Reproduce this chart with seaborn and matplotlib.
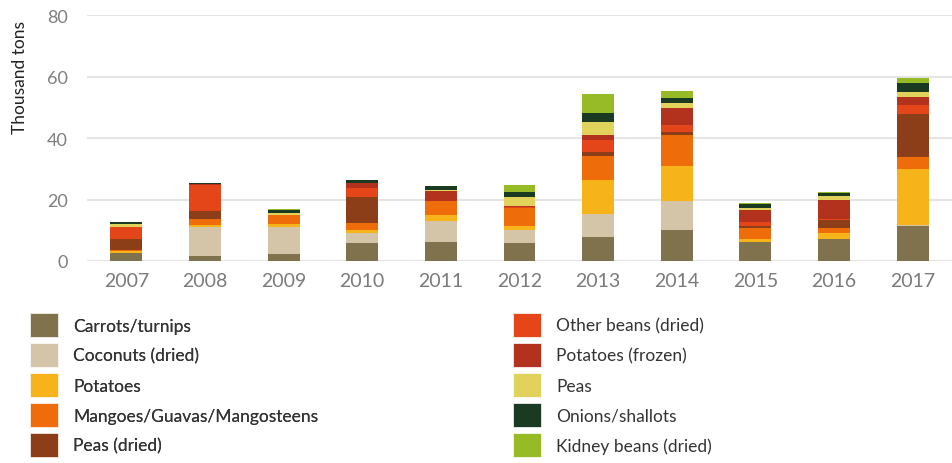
import matplotlib
matplotlib.use("Agg")
import matplotlib.pyplot as plt
from matplotlib.patches import Patch
import numpy as np
import pandas as pd
import seaborn as sns

years = [2007, 2008, 2009, 2010, 2011, 2012, 2013, 2014, 2015, 2016, 2017]

crops = [
    "Carrots/turnips",
    "Coconuts (dried)",
    "Potatoes",
    "Mangoes/Guavas/Mangosteens",
    "Peas (dried)",
    "Other beans (dried)",
    "Potatoes (frozen)",
    "Peas",
    "Onions/shallots",
    "Kidney beans (dried)",
]

# thousand tons (bottom to top of each bar)
carrots = [2.7, 1.5, 2.15, 5.7, 6.3, 5.7, 7.95, 10.2, 6.2, 7.0, 11.3]
coconuts = [0, 9.6, 9.0, 3.55, 6.8, 4.5, 7.4, 9.35, 0, 0, 0.55]
potatoes = [0.55, 0.75, 1.0, 0.75, 1.9, 1.3, 11.0, 11.3, 1.0, 2.25, 18.1]
mangoes = [0.3, 1.9, 2.7, 2.25, 4.5, 5.6, 7.7, 10.0, 3.5, 1.6, 3.9]
peas_dried = [3.5, 2.6, 0, 8.6, 0, 0, 1.3, 1.0, 0.65, 2.6, 14.1]
other_beans = [3.9, 8.5, 0.2, 3.0, 0, 0.3, 3.9, 2.25, 1.3, 0.3, 2.7]
potatoes_frozen = [0, 0.2, 0, 1.5, 3.2, 0.55, 1.6, 5.5, 4.0, 6.1, 2.6]
peas = [1.0, 0, 0.6, 0, 0.3, 2.9, 4.5, 1.9, 0.55, 1.3, 1.6]
onions = [0.6, 0.3, 1.0, 1.0, 1.3, 1.6, 2.9, 1.6, 1.3, 1.0, 2.9]
kidney_beans = [0, 0, 0.3, 0, 0, 2.25, 6.1, 2.25, 0.3, 0.3, 1.6]

series = [carrots, coconuts, potatoes, mangoes, peas_dried,
          other_beans, potatoes_frozen, peas, onions, kidney_beans]

colors = ["#7F724D", "#D4C4A8", "#F6B41A", "#EF6C0A", "#8B3E17",
          "#E4461A", "#B3321D", "#E0D25A", "#1B3A22", "#97BB27"]
palette = dict(zip(crops, colors))

rows = []
for crop, vals in zip(crops, series):
    for y, v in zip(years, vals):
        rows.append({"year": y, "crop": crop, "value": v})
df = pd.DataFrame(rows)

sns.set_theme(style="white")
plt.rcParams["font.family"] = ["Lato", "DejaVu Sans"]

fig = plt.figure(figsize=(9.52, 4.64), dpi=100)
ax = fig.add_axes([87 / 952, 1 - 262 / 464, 1 - 87 / 952, (262 - 16) / 464])

sns.histplot(data=df, x="year", weights="value", hue="crop",
             hue_order=crops[::-1], palette=palette, multiple="stack",
             discrete=True, shrink=0.405, linewidth=0, alpha=1,
             legend=False, ax=ax)

ax.set_xlim(2006.5, 2017.46)
ax.set_ylim(0, 80)
ax.set_yticks([0, 20, 40, 60, 80])
ax.set_xticks(years)
ax.set_xticks(np.arange(2006.5, 2018, 1), minor=True)
ax.set_xlabel("")
ax.set_ylabel("")
for s in ax.spines.values():
    s.set_visible(False)
ax.yaxis.grid(True, color="#E4E4E4", lw=1.5)
ax.xaxis.grid(False)
ax.set_axisbelow(True)
ax.tick_params(axis="x", which="major", length=0, pad=8, labelsize=14, labelcolor="#7A7A7A")
ax.tick_params(axis="x", which="minor", length=5, width=1.5, color="#E4E4E4", direction="out")
ax.tick_params(axis="y", length=0, pad=14, labelsize=13, labelcolor="#7F7F7F")

fig.text(20 / 952, 1 - 78 / 464, "Thousand tons", rotation=90, ha="center", va="center",
         fontsize=12.5, color="#222222")

handles = [Patch(facecolor=palette[c], edgecolor="white", lw=0.5, label=c) for c in crops]
leg_kw = dict(loc="upper left", frameon=False, fontsize=12.5, borderpad=0, borderaxespad=0,
              handlelength=1.6, handleheight=1.75, handletextpad=0.9, labelspacing=0.35,
              labelcolor="#333333")
leg1 = fig.legend(handles=handles[:5], bbox_to_anchor=(30 / 952, 1 - 314 / 464), **leg_kw)
fig.add_artist(leg1)
fig.legend(handles=handles[5:], bbox_to_anchor=(513 / 952, 1 - 314 / 464), **leg_kw)

fig.savefig("out.png", dpi=100)
